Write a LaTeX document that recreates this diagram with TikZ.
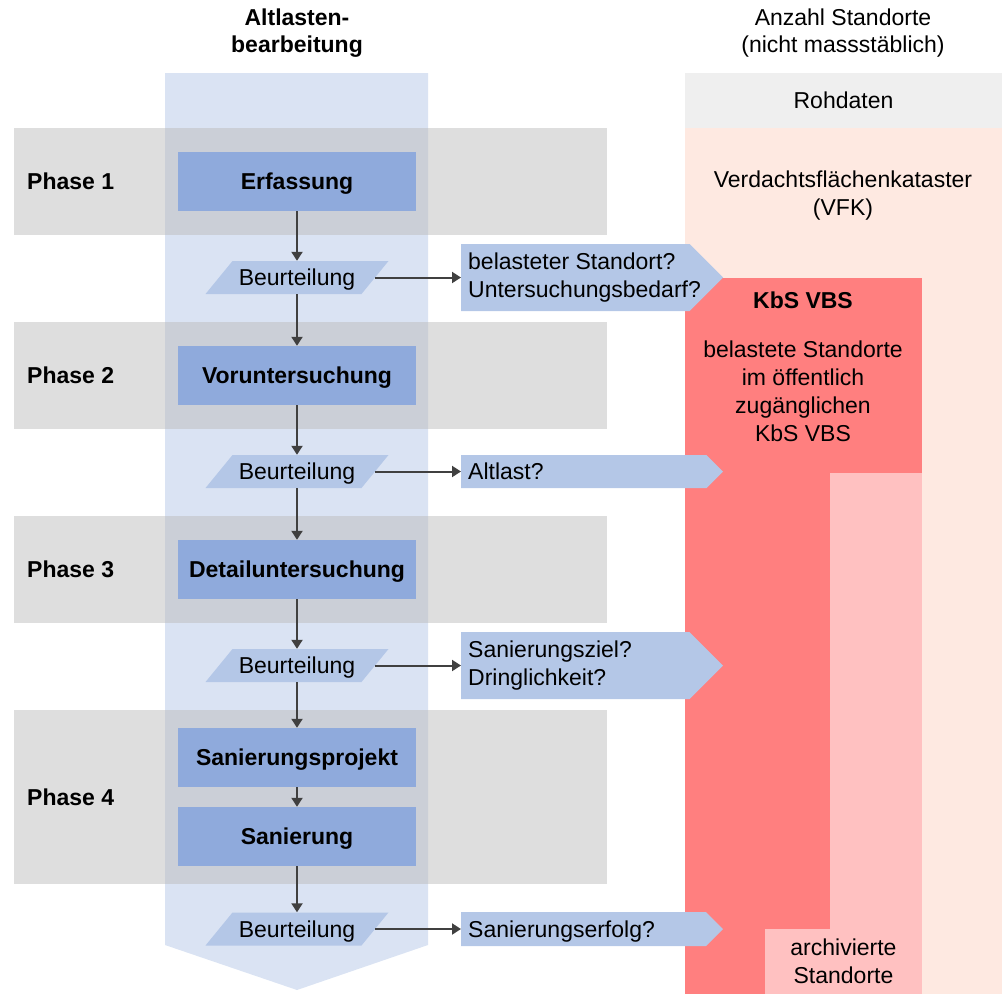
\documentclass[tikz,border=0pt]{standalone}
\usepackage{fontspec}
\setmainfont{Liberation Sans}
\usetikzlibrary{arrows.meta}
\definecolor{columnblue}{HTML}{DAE3F3}
\definecolor{stepblue}{HTML}{8FAADC}
\definecolor{askblue}{HTML}{B4C7E7}
\definecolor{rawgray}{HTML}{EFEFEF}
\definecolor{vfkpeach}{HTML}{FEE9E1}
\definecolor{kbsred}{HTML}{FF7F7F}
\definecolor{archpink}{HTML}{FFC1C1}
\definecolor{arrowgray}{HTML}{404040}
\def\judge(#1)(#2){\fill[askblue] (205.5,{#1+16.5}) -- (232.5,{#1-16.5}) -- (388.5,{#1-16.5}) -- (361.5,{#1+16.5}) -- cycle;
	\node[judgetext] (#2) at (297,#1) {Beurteilung};}
\def\askarrow(#1:#2){\fill[askblue] (461,#1) -- ({723-(#2-#1)/2},#1) -- (723,{(#1+#2)/2}) -- ({723-(#2-#1)/2},#2) -- (461,#2) -- cycle;}

\begin{document}
\begin{tikzpicture}[x=1pt, y=-1pt,
		every node/.style={font=\fontsize{23}{28}\selectfont, inner sep=0pt, align=center},
		oneline/.style={text height=16.5pt, text depth=0pt},
		stepbox/.style={oneline, fill=stepblue, minimum width=238pt, minimum height=59pt, font=\fontsize{23}{28}\selectfont\bfseries},
		judgetext/.style={oneline, minimum width=156pt, minimum height=33pt},
		asktext/.style={anchor=west, inner xsep=7pt, align=left},
		phaselabel/.style={oneline, anchor=west, font=\fontsize{23}{28}\selectfont\bfseries},
		phaseband/.style={fill=black!26, fill opacity=0.5},
		flow/.style={draw=arrowgray, line width=2pt, -{Triangle[length=9pt,width=11pt]}}]
		%%%%% START %%%%%
		\useasboundingbox (0,0) rectangle (1002,994);
		
		% headings
		\node[font=\fontsize{23}{27}\selectfont\bfseries] (head1) at (297,33) {Altlasten-\\bearbeitung};
		\node[font=\fontsize{23}{27}\selectfont] (head2) at (843,33) {Anzahl Standorte\\(nicht massstäblich)};
		
		% column
		\fill[columnblue] (165,73) -- (428,73) -- (428,945) -- (297,990) -- (165,945) -- cycle;
		
		% counts
		\node[oneline, fill=rawgray, minimum width=317pt, minimum height=55pt] (raw) at (843.5,100.5) {Rohdaten};
		\fill[vfkpeach] (685,128) rectangle (1002,994);
		\node (vfk) at (843,196) {Verdachtsflächenkataster\\(VFK)};
		\fill[kbsred] (685,278) rectangle (922,994);
		\fill[archpink] (830,473) rectangle (922,994);
		\node[oneline, font=\fontsize{23}{28}\selectfont\bfseries] (kbs) at (803,300) {KbS VBS};
		\node (kbstext) at (803,391) {belastete Standorte\\im öffentlich\\zugänglichen\\KbS VBS};
		\node[fill=archpink, minimum width=157pt, minimum height=65pt] (arch) at (843.5,961.5) {archivierte\\Standorte};
		
		% phases
		\fill[phaseband] (14,128) rectangle (607,235);
		\fill[phaseband] (14,322) rectangle (607,429);
		\fill[phaseband] (14,516) rectangle (607,623);
		\fill[phaseband] (14,710) rectangle (607,884);
		
		\node[phaselabel] (p1) at (27,181.5) {Phase 1};
		\node[phaselabel] (p2) at (27,375.5) {Phase 2};
		\node[phaselabel] (p3) at (27,569.5) {Phase 3};
		\node[phaselabel] (p4) at (27,797) {Phase 4};
		
		% steps
		\node[stepbox] (erf) at (297,181.5) {Erfassung};
		\node[stepbox] (vor) at (297,375.5) {Voruntersuchung};
		\node[stepbox] (det) at (297,569.5) {Detailuntersuchung};
		\node[stepbox] (sprj) at (297,757.5) {Sanierungsprojekt};
		\node[stepbox] (san) at (297,836.5) {Sanierung};
		
		\judge(277.5)(b1)
		\judge(471.5)(b2)
		\judge(665.5)(b3)
		\judge(929)(b4)
		
		% questions
		\askarrow(244:311)
		\askarrow(455:488)
		\askarrow(632:699)
		\askarrow(912:946)
		\node[asktext] (q1) at (461,277.5) {belasteter Standort?\\Untersuchungsbedarf?};
		\node[asktext, oneline] (q2) at (461,471.5) {Altlast?};
		\node[asktext] (q3) at (461,665.5) {Sanierungsziel?\\Dringlichkeit?};
		\node[asktext, oneline] (q4) at (461,929) {Sanierungserfolg?};
		
		% arrows
		\draw[flow] (erf) -- (b1);
		\draw[flow] (b1) -- (vor);
		\draw[flow] (vor) -- (b2);
		\draw[flow] (b2) -- (det);
		\draw[flow] (det) -- (b3);
		\draw[flow] (b3) -- (sprj);
		\draw[flow] (sprj) -- (san);
		\draw[flow] (san) -- (b4);
		
		\draw[flow] (b1) -- (q1);
		\draw[flow] (b2) -- (q2);
		\draw[flow] (b3) -- (q3);
		\draw[flow] (b4) -- (q4);
		
		%%%%% END %%%%%
	\end{tikzpicture}
\end{document}
